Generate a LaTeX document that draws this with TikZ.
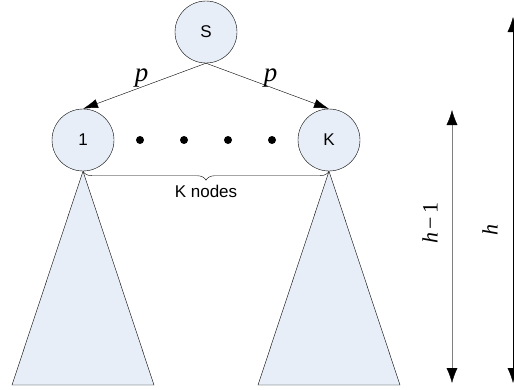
\documentclass[tikz,border=0pt]{standalone}
\usepackage{fontspec}
\setmainfont{Liberation Sans}
\newfontfamily\varFont{Liberation Serif}
\usepackage{xcolor}
\definecolor{mainDark}{HTML}{000000}
\definecolor{nodeBg}{HTML}{E8EEF7}
\definecolor{dimGrey}{HTML}{808080}
\usetikzlibrary{positioning,calc,arrows.meta,decorations.pathreplacing}
\tikzset{%
  treeNode/.style={%
    circle,
    draw=mainDark,
    fill=nodeBg,
    minimum size=62pt,
    inner sep=0pt,
    font=\fontsize{17}{20}\selectfont
  },
  subTree/.style={%
    draw=mainDark,
    fill=nodeBg,
    line join=miter
  },
  arrowLine/.style={%
    -{Latex[length=15pt,width=9pt]},
    color=mainDark
  },
  dimLine/.style={%
    {Latex[length=15pt,width=11pt,color=mainDark]}-{Latex[length=15pt,width=11pt,color=mainDark]}
  },
  dotMark/.style={%
    circle,
    fill=mainDark,
    minimum size=8pt,
    inner sep=0pt
  },
  probLabel/.style={%
    inner sep=0pt,
    font=\varFont\itshape\fontsize{27}{30}\selectfont
  },
  heightLabel/.style={%
    rotate=90,
    inner sep=0pt,
    font=\varFont\fontsize{22}{26}\selectfont
  }
}

\begin{document}
\begin{tikzpicture}[x=1pt,y=-1pt]
            \useasboundingbox (0,0) rectangle (514,389);

            \node[treeNode] (root) at (206,32) {S};
            \node[treeNode] (one) at (83,140) {1};
            \node[treeNode] (last) at (329,140) {K};

            \draw[subTree] (one.south) -- (12,385) -- (154,385) -- cycle;
            \draw[subTree] (last.south) -- (258,385) -- (400,385) -- cycle;

            \foreach \x in {140,184,228,272}
                \node[dotMark] at (\x,140) {};

            \draw[arrowLine] (root.south) -- node[probLabel, midway, above=-1pt, xshift=-3pt]{p} (one.north);
            \draw[arrowLine] (root.south) -- node[probLabel, midway, above=-1pt, xshift=3pt]{p} (last.north);

            \draw[decorate, decoration={brace, mirror, amplitude=9pt}] (one.south) -- node[midway, below=10pt, font=\fontsize{17}{20}\selectfont]{K nodes} (last.south);

            \coordinate (hmTop) at (452,110);
            \coordinate (hmBot) at (452,383);
            \coordinate (hTop) at (513,17);
            \coordinate (hBot) at (513,383);

            \draw[dimLine, draw=dimGrey] (hmTop) -- (hmBot);
            \draw[dimLine] (hTop) -- (hBot);

            \node[heightLabel] (hmLabel) at (430,223) {\textit{h}\,−\,1};
            \node[heightLabel] (hLabel) at (490,230) {\textit{h}};
        \end{tikzpicture}
\end{document}
